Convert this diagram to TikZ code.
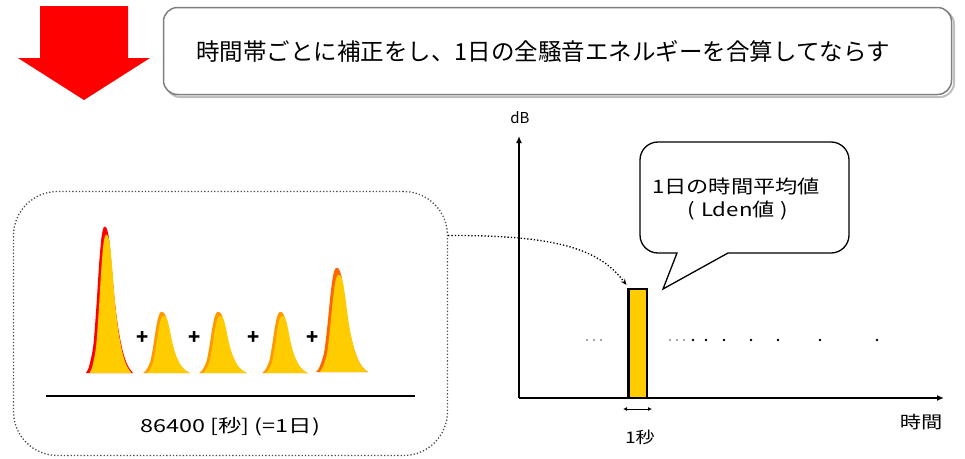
\documentclass[tikz,border=0pt]{standalone}
\usepackage{fontspec}
\setmainfont{Noto Sans CJK JP}
\usetikzlibrary{arrows.meta}
\definecolor{peakyellow}{HTML}{FFCC00}
\definecolor{peakorange}{HTML}{FF9900}
\definecolor{peakdark}{HTML}{FF6600}
\definecolor{boxgray}{HTML}{7F7F7F}
\newcommand\peakprofile{plot[smooth, tension=0.5] coordinates {(0,0) (0.05,0.03) (0.1,0.09) (0.16,0.2) (0.22,0.45) (0.28,0.75) (0.33,0.93) (0.38,1) (0.44,0.99) (0.49,0.92) (0.54,0.76) (0.61,0.5) (0.69,0.3) (0.79,0.14) (0.89,0.05) (1,0)} -- cycle}
% #1 x0, #2 baseline, #3 width, #4 height, #5 outline colour, #6 inner width, #7 inner height
\newcommand\mypeak[7]{%
  \fill[#5, shift={(#1,#2)}, xscale=#3, yscale=-#4] \peakprofile;
  \fill[peakyellow, shift={(#1+3.5,#2)}, xscale=#6, yscale=-#7] \peakprofile;
}
\tikzset{
  plusmark/.style={font=\fontsize{20}{20}\selectfont\bfseries, inner sep=0pt},
  axisline/.style={line width=1.6pt, -{Latex[length=7pt,width=6pt]}},
  dotmark/.style={circle, fill=black, inner sep=0pt, minimum size=2.6pt},
  smalldot/.style={circle, fill=black!70, inner sep=0pt, minimum size=1.6pt},
}
\begin{document}
\begin{tikzpicture}[x=1pt,y=-1pt]
\useasboundingbox (0,0) rectangle (965,458);
% red arrow
\fill[red] (40,6) -- (128,6) -- (128,58) -- (150,58) -- (84,100) -- (18,58) -- (40,58) -- cycle;
% top box
\draw[black!25, line width=2pt, rounded corners=14pt] (166,10) rectangle (954,97);
\node[draw=boxgray, fill=white, line width=1.5pt, rounded corners=14pt, minimum width=788pt, minimum height=87pt] (topbox) at (557.5,51) {};
\node (toptext) at (543,51) {\fontsize{23.5}{25}\selectfont 時間帯ごとに補正をし、1日の全騒音エネルギーを合算してならす};
% left dotted box
\node[draw=black!70, dotted, line width=1.3pt, rounded corners=44pt, minimum width=434pt, minimum height=264pt] (lbox) at (230.5,323.5) {};
% peaks
\mypeak{86}{373}{47}{146}{red}{42}{138}
\mypeak{143}{373}{47}{61}{peakorange}{43}{57}
\mypeak{199}{373}{48}{61}{peakorange}{44}{57}
\mypeak{262}{373}{46}{61}{peakorange}{42}{57}
\mypeak{316}{372}{52}{104}{peakdark}{48}{97}
\node[plusmark] (p1) at (143,338) {+};
\node[plusmark] (p2) at (195,338) {+};
\node[plusmark] (p3) at (254,338) {+};
\node[plusmark] (p4) at (313,338) {+};
\draw[line width=2.8pt] (46,396) -- (415,396);
\node (daylabel) at (230,427) {\scalebox{1.3}[1]{\fontsize{18}{20}\selectfont 86400 [秒] (=1日)}};
% axes
\coordinate (O) at (519,398);
\coordinate (ytip) at (519,136);
\coordinate (xtip) at (944,398);
\draw[axisline] (O) -- (ytip);
\draw[axisline] (O) -- (xtip);
\node (dB) at (520,118) {\fontsize{15}{16}\selectfont dB};
\node (timelabel) at (921,422) {\scalebox{1.25}[1]{\fontsize{17}{18}\selectfont 時間}};
% bar
\node[fill=peakyellow, draw=black, line width=1.2pt, minimum width=19pt, minimum height=108pt, inner sep=0pt] (bar) at (637.5,343.5) {};
\draw[line width=2.4pt] (bar.south west) ++(1.2,0) -- ([xshift=1.2pt]bar.north west) -- (bar.north east);
% 1 sec
\coordinate (sa) at (623,409);
\coordinate (sb) at (652,409);
\draw[line width=1pt, {Latex[length=4pt,width=4pt]}-{Latex[length=4pt,width=4pt]}] (sa) -- (sb);
\node (onesec) at (640,437) {\scalebox{1.2}[1]{\fontsize{16}{18}\selectfont 1秒}};
% dots
\foreach \x in {587,594,601,670,677,684} \node[smalldot] at (\x,340) {};
\foreach \x in {693,706,724,751,778,820,877} \node[dotmark] at (\x,340) {};
% speech bubble
\draw[line width=1.3pt, fill=white] (663,289) -- (677,253) [rounded corners=18pt] -- (640,253) -- (640,142) -- (849,142) -- (849,253) [sharp corners] -- (728,253) -- cycle;
\node (avg1) at (736,186) {\scalebox{1.2}[1]{\fontsize{18.5}{20}\selectfont 1日の時間平均値}};
\node (avg2) at (738,211) {\scalebox{1.2}[1]{\fontsize{18.5}{20}\selectfont (\;Lden値\;)}};
% dotted connector
\draw[dotted, line width=1.3pt, -{Stealth[length=6pt,width=5pt]}] ([yshift=88pt]lbox.east) .. controls (560,235) and (600,250) .. ([xshift=-1pt,yshift=4pt]bar.north west);
\end{tikzpicture}
\end{document}
